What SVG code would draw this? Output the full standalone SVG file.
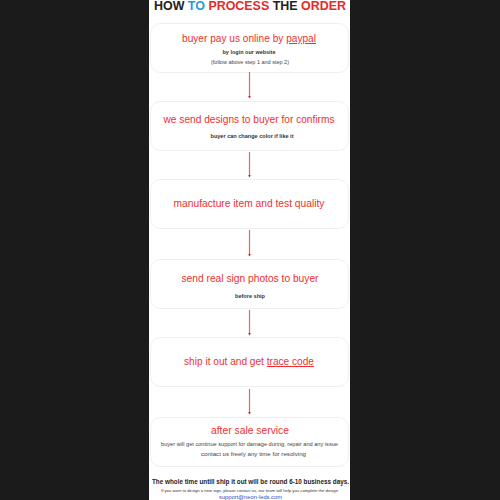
<svg xmlns="http://www.w3.org/2000/svg" width="500" height="500" viewBox="0 0 500 500">
<defs>
<marker id="ah" viewBox="0 0 6 6" refX="5" refY="3" markerWidth="2.5" markerHeight="2.5" orient="auto" markerUnits="strokeWidth"><path d="M0,0 L6,3 L0,6 z" fill="#c82020"/></marker>
<style>
.box{fill:#fff;stroke:#efefef;stroke-width:1}
.main{font-family:"Liberation Sans",Arial,sans-serif;fill:#ee3030;text-anchor:middle}
.sub{font-family:"Liberation Sans",Arial,sans-serif;fill:#333;text-anchor:middle;font-weight:bold;font-size:5.5px}
.note{font-family:"Liberation Sans",Arial,sans-serif;fill:#444;text-anchor:middle;font-size:5.5px}
.title{font-family:"Liberation Sans",Arial,sans-serif;font-weight:bold;font-size:12.5px;text-anchor:middle}
</style>
</defs>
<rect x="0" y="0" width="500" height="500" fill="#1b1b1b"/>
<rect x="149" y="0" width="201" height="500" fill="#fff"/>
<text class="title" x="250" y="9.5" textLength="192" lengthAdjust="spacingAndGlyphs"><tspan fill="#222">HOW </tspan><tspan fill="#1e9be0">TO </tspan><tspan fill="#e52a2a">PROCESS </tspan><tspan fill="#222">THE </tspan><tspan fill="#e52a2a">ORDER</tspan></text>

<g id="step1">
<rect class="box" x="150.5" y="23.5" width="198" height="49" rx="10"/>
<text class="main" x="249" y="42" font-size="10" textLength="134" lengthAdjust="spacingAndGlyphs">buyer pay us online by <tspan text-decoration="underline">paypal</tspan></text>
<text class="sub" x="249" y="54" textLength="53" lengthAdjust="spacingAndGlyphs">by login our website</text>
<text class="note" x="250" y="63.5" textLength="78" lengthAdjust="spacingAndGlyphs">(follow above step 1 and step 2)</text>
</g>
<g id="step2">
<rect class="box" x="150.5" y="101.5" width="198" height="49" rx="10"/>
<text class="main" x="249" y="123" font-size="10" textLength="171" lengthAdjust="spacingAndGlyphs">we send designs to buyer for confirms</text>
<text class="sub" x="252" y="138" textLength="83" lengthAdjust="spacingAndGlyphs">buyer can change color if like it</text>
</g>
<g id="step3">
<rect class="box" x="150.5" y="179.5" width="198" height="49" rx="10"/>
<text class="main" x="249" y="207" font-size="10" textLength="151" lengthAdjust="spacingAndGlyphs">manufacture item and test quality</text>
</g>
<g id="step4">
<rect class="box" x="150.5" y="259.5" width="198" height="49" rx="10"/>
<text class="main" x="250" y="282" font-size="10" textLength="137" lengthAdjust="spacingAndGlyphs">send real sign photos to buyer</text>
<text class="sub" x="250" y="298" textLength="30" lengthAdjust="spacingAndGlyphs">before ship</text>
</g>
<g id="step5">
<rect class="box" x="150.5" y="337.5" width="198" height="49" rx="10"/>
<text class="main" x="249" y="365" font-size="10" textLength="130" lengthAdjust="spacingAndGlyphs">ship it out and get <tspan text-decoration="underline">trace code</tspan></text>
</g>
<g id="step6">
<rect class="box" x="150.5" y="417.5" width="198" height="49" rx="10"/>
<text class="main" x="250" y="434" font-size="11" textLength="78" lengthAdjust="spacingAndGlyphs">after sale service</text>
<text class="note" x="249.5" y="446" textLength="177" lengthAdjust="spacingAndGlyphs">buyer will get continue support for damage during, repair and any issue</text>
<text class="note" x="253.5" y="456" textLength="105" lengthAdjust="spacingAndGlyphs">contact us freely any time for resolving</text>
</g>
<g id="connectors" fill="none" stroke="#f06060" stroke-width="1.2">
<line x1="249.5" y1="72" x2="249.5" y2="98" marker-end="url(#ah)"/>
<line x1="249.5" y1="152" x2="249.5" y2="177" marker-end="url(#ah)"/>
<line x1="249.5" y1="230" x2="249.5" y2="256" marker-end="url(#ah)"/>
<line x1="249.5" y1="310" x2="249.5" y2="335" marker-end="url(#ah)"/>
<line x1="249.5" y1="389" x2="249.5" y2="414" marker-end="url(#ah)"/>
</g>
<g id="footer">
<text x="250.5" y="483.5" font-family="Liberation Sans,Arial,sans-serif" font-weight="bold" font-size="7" fill="#222" text-anchor="middle" textLength="197" lengthAdjust="spacingAndGlyphs">The whole time untill ship it out will be round 6-10 business days.</text>
<text x="249.5" y="491.5" font-family="Liberation Sans,Arial,sans-serif" font-size="4" fill="#333" text-anchor="middle" textLength="177" lengthAdjust="spacingAndGlyphs">If you want to design a new sign, please contact us, our team will help you complete the design</text>
<text x="250.5" y="499" font-family="Liberation Sans,Arial,sans-serif" font-size="5.5" fill="#2a4fbf" text-anchor="middle" text-decoration="underline" textLength="63" lengthAdjust="spacingAndGlyphs">support@neon-leds.com</text>
</g>
</svg>
